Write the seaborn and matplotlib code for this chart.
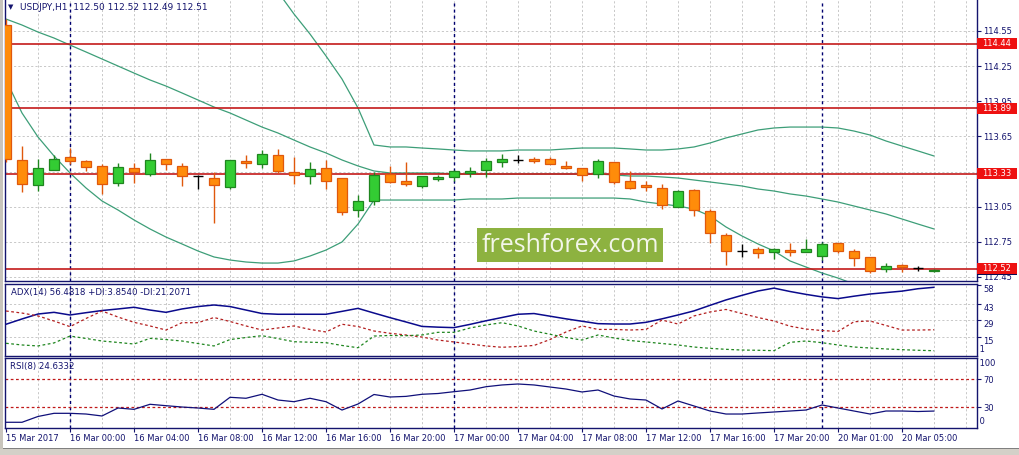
import matplotlib
matplotlib.use("Agg")
import matplotlib.pyplot as plt
from matplotlib.patches import Rectangle
import numpy as np
import pandas as pd
import seaborn as sns

# ---------------- data ----------------
bar_idx = list(range(59))
opens = [114.600, 113.449, 113.233, 113.366, 113.472, 113.438, 113.398, 113.250, 113.378, 113.332,
         113.455, 113.398, 113.312, 113.293, 113.216, 113.438, 113.415, 113.489, 113.349, 113.310,
         113.378, 113.293, 113.022, 113.101, 113.329, 113.270, 113.229, 113.287, 113.306, 113.335,
         113.363, 113.429, 113.449, 113.457, 113.455, 113.398, 113.378, 113.329, 113.429, 113.270,
         113.235, 113.207, 113.045, 113.193, 113.013, 112.808, 112.672, 112.686, 112.663, 112.680,
         112.666, 112.632, 112.738, 112.672, 112.623, 112.518, 112.552, 112.524, 112.500]
highs = [114.650, 113.568, 113.455, 113.491, 113.549, 113.449, 113.412, 113.420, 113.420, 113.506,
         113.455, 113.420, 113.321, 113.349, 113.449, 113.491, 113.534, 113.543, 113.477, 113.429,
         113.449, 113.293, 113.150, 113.349, 113.398, 113.434, 113.312, 113.321, 113.363, 113.392,
         113.463, 113.500, 113.491, 113.472, 113.472, 113.443, 113.378, 113.455, 113.434, 113.357,
         113.270, 113.244, 113.193, 113.200, 113.028, 112.823, 112.732, 112.709, 112.700, 112.738,
         112.774, 112.750, 112.740, 112.689, 112.623, 112.567, 112.561, 112.547, 112.520]
lows = [113.430, 113.178, 113.187, 113.366, 113.415, 113.357, 113.156, 113.229, 113.255, 113.315,
        113.363, 113.229, 113.199, 112.908, 113.199, 113.378, 113.378, 113.335, 113.241, 113.241,
        113.201, 112.979, 112.965, 113.065, 113.250, 113.229, 113.212, 113.270, 113.272, 113.301,
        113.301, 113.392, 113.426, 113.426, 113.412, 113.369, 113.272, 113.293, 113.241, 113.199,
        113.187, 113.028, 113.045, 112.973, 112.738, 112.552, 112.623, 112.610, 112.601, 112.629,
        112.666, 112.595, 112.652, 112.547, 112.482, 112.491, 112.495, 112.504, 112.490]
closes = [113.457, 113.241, 113.378, 113.455, 113.443, 113.386, 113.241, 113.386, 113.349, 113.449,
          113.412, 113.312, 113.312, 113.233, 113.449, 113.420, 113.497, 113.357, 113.318, 113.369,
          113.272, 113.007, 113.099, 113.321, 113.258, 113.241, 113.312, 113.301, 113.355, 113.355,
          113.440, 113.455, 113.449, 113.443, 113.412, 113.383, 113.321, 113.440, 113.258, 113.212,
          113.216, 113.065, 113.184, 113.022, 112.823, 112.672, 112.672, 112.652, 112.686, 112.661,
          112.686, 112.729, 112.674, 112.610, 112.504, 112.544, 112.535, 112.524, 112.510]

bb_upper = [115.172, 115.352, 115.437, 115.497, 115.522, 115.532, 115.523, 115.480, 115.445, 115.404,
            115.369, 115.310, 115.250, 115.181, 115.120, 115.050, 114.970, 114.883, 114.695, 114.524,
            114.337, 114.140, 113.893, 113.577, 113.560, 113.560, 113.551, 113.543, 113.534, 113.526,
            113.526, 113.526, 113.534, 113.534, 113.534, 113.543, 113.551, 113.551, 113.551, 113.543,
            113.534, 113.534, 113.543, 113.560, 113.594, 113.637, 113.671, 113.705, 113.722, 113.730,
            113.730, 113.730, 113.722, 113.696, 113.662, 113.611, 113.568, 113.526, 113.483]
bb_middle = [114.652, 114.601, 114.541, 114.490, 114.430, 114.371, 114.311, 114.251, 114.191, 114.132,
             114.080, 114.021, 113.961, 113.901, 113.850, 113.790, 113.730, 113.679, 113.619, 113.560,
             113.509, 113.449, 113.398, 113.355, 113.338, 113.338, 113.338, 113.338, 113.329, 113.329,
             113.329, 113.329, 113.329, 113.329, 113.329, 113.329, 113.329, 113.329, 113.321, 113.312,
             113.312, 113.304, 113.295, 113.278, 113.261, 113.244, 113.227, 113.201, 113.184, 113.159,
             113.141, 113.116, 113.090, 113.056, 113.022, 112.988, 112.945, 112.902, 112.860]
bb_lower = [114.132, 113.850, 113.645, 113.483, 113.338, 113.210, 113.099, 113.022, 112.937, 112.860,
            112.791, 112.732, 112.672, 112.621, 112.595, 112.578, 112.569, 112.569, 112.587, 112.629,
            112.680, 112.749, 112.902, 113.107, 113.107, 113.107, 113.107, 113.107, 113.107, 113.116,
            113.116, 113.116, 113.124, 113.124, 113.124, 113.124, 113.124, 113.124, 113.124, 113.116,
            113.090, 113.073, 113.056, 113.030, 112.971, 112.877, 112.800, 112.732, 112.672, 112.587,
            112.535, 112.484, 112.441, 112.390, 112.348, 112.313, 112.279, 112.254, 112.228]

adx_main = [25.8, 30.2, 34.3, 35.7, 33.5, 35.4, 37.2, 38.5, 39.9, 37.6,
            35.7, 38.5, 40.5, 41.8, 40.5, 37.6, 34.7, 34.1, 34.1, 34.1,
            34.1, 36.5, 39.0, 35.1, 31.3, 27.7, 24.0, 23.4, 23.0, 25.7,
            28.7, 31.4, 34.1, 34.7, 32.5, 30.3, 28.3, 26.3, 26.0, 26.0,
            27.4, 30.3, 33.5, 36.9, 41.5, 46.0, 49.8, 53.4, 55.8, 53.0,
            50.6, 48.5, 47.1, 49.1, 50.9, 52.1, 53.3, 55.3, 56.48]
adx_minus_di = [36.8, 35.1, 32.7, 28.5, 23.8, 30.6, 36.8, 31.8, 27.4, 24.4,
                21.0, 27.1, 27.1, 31.4, 28.1, 24.4, 21.0, 22.7, 24.4, 21.5,
                19.4, 25.8, 23.9, 20.2, 18.3, 16.9, 15.2, 12.7, 11.1, 9.4,
                7.8, 6.7, 7.3, 8.2, 13.1, 19.4, 24.4, 21.5, 21.5, 21.0,
                21.5, 29.3, 26.0, 32.7, 36.0, 38.1, 34.7, 31.4, 28.5, 24.2,
                21.8, 20.6, 19.8, 27.9, 28.5, 24.8, 21.0, 21.0, 21.21]
adx_plus_di = [10.0, 8.6, 7.8, 10.3, 16.0, 14.0, 11.9, 10.7, 9.4, 14.1,
               13.1, 11.9, 9.8, 7.8, 13.1, 14.8, 16.3, 13.9, 11.3, 10.9,
               10.5, 8.2, 6.3, 16.0, 16.5, 16.3, 16.9, 19.1, 19.1, 22.7,
               25.2, 27.1, 24.4, 20.2, 17.5, 14.8, 12.7, 16.9, 14.4, 12.3,
               11.1, 9.8, 8.6, 6.9, 5.8, 5.0, 4.4, 4.2, 3.9, 10.8,
               11.9, 10.5, 8.6, 6.9, 6.1, 5.3, 4.7, 4.2, 3.85]
rsi_values = [8.6, 8.6, 16.9, 21.4, 21.4, 20.4, 17.6, 29.0, 27.1, 34.3,
              32.3, 30.4, 29.0, 27.1, 44.3, 42.9, 48.6, 40.4, 38.0, 42.9,
              38.0, 26.1, 34.7, 48.3, 44.7, 45.6, 48.6, 49.7, 52.3, 54.7,
              59.4, 61.9, 63.3, 61.9, 59.0, 56.1, 51.9, 54.7, 46.1, 41.9,
              40.4, 27.6, 39.0, 31.9, 24.7, 20.4, 20.4, 21.9, 23.3, 24.7,
              26.1, 33.3, 29.0, 24.7, 20.4, 24.7, 24.7, 24.0, 24.63]

level_prices = [114.44, 113.89, 113.33, 112.52]
level_labels = ["114.44", "113.89", "113.33", "112.52"]
bid_price = 112.51
price_ticks = [112.45, 112.75, 113.05, 113.35, 113.65, 113.95, 114.25, 114.55]
adx_ticks = [58, 43, 29, 15]
rsi_levels = [70, 30]
time_tick_pos = [0, 4, 8, 12, 16, 20, 24, 28, 32, 36, 40, 44, 48, 52, 56]
time_tick_labels = ["15 Mar 2017", "16 Mar 00:00", "16 Mar 04:00", "16 Mar 08:00", "16 Mar 12:00",
                    "16 Mar 16:00", "16 Mar 20:00", "17 Mar 00:00", "17 Mar 04:00", "17 Mar 08:00",
                    "17 Mar 12:00", "17 Mar 16:00", "17 Mar 20:00", "20 Mar 01:00", "20 Mar 05:00"]
day_separators = [4, 28, 51]
header = "USDJPY,H1  112.50 112.52 112.49 112.51"
adx_header = "ADX(14) 56.4818 +DI:3.8540 -DI:21.2071"
rsi_header = "RSI(8) 24.6332"

# ---------------- style ----------------
sns.set_style("white")
plt.rcParams['font.family'] = ['DejaVu Sans']
NAVY = '#14146e'
GRID = '#c8c8c8'
W, H = 1019, 455


def fx(px):
    return px / W


def fy(py):
    return 1 - py / H


fig = plt.figure(figsize=(W / 100, H / 100), dpi=100)
fig.patch.set_facecolor('white')

pw = (977 - 5) / W
ax_main = fig.add_axes([fx(5), fy(281), pw, 281 / H])
ax_adx = fig.add_axes([fx(5), fy(356), pw, (356 - 284) / H])
ax_rsi = fig.add_axes([fx(5), fy(428), pw, (428 - 358) / H])

xlim = (-1 / 16, (977 - 6) / 16)
for ax in (ax_main, ax_adx, ax_rsi):
    ax.set_xlim(*xlim)
    ax.set_facecolor('white')
    for s in ax.spines.values():
        s.set_color(NAVY)
        s.set_linewidth(1.0)
    ax.yaxis.tick_right()
    ax.tick_params(axis='y', direction='out', length=3, width=0.8, color=NAVY,
                   labelsize=6, labelcolor=NAVY, pad=1.5)
    ax.tick_params(axis='x', bottom=False, labelbottom=False)
    for k in range(2, 61, 2):
        ax.axvline(k, color=GRID, lw=0.7, ls=(0, (2.2, 2.2)), zorder=0.5)
    for k in day_separators:
        ax.axvline(k, color='#000070', lw=1.0, ls=(0, (2.2, 2.2)), zorder=1)
ax_main.spines['top'].set_visible(False)

# ---------------- main panel ----------------
ax_main.set_ylim(112.4158, 114.8146)
ax_main.set_yticks(price_ticks)
ax_main.set_yticklabels([f"{v:.2f}" for v in price_ticks])
for v in price_ticks:
    ax_main.axhline(v, color=GRID, lw=0.7, ls=(0, (2.2, 2.2)), zorder=0.5)

band_color = '#3d9e78'
for series in (bb_upper, bb_middle, bb_lower):
    sns.lineplot(x=bar_idx, y=series, ax=ax_main, color=band_color, lw=0.9, zorder=2)

for lv in level_prices:
    ax_main.axhline(lv, color='#c41a1a', lw=1.2, zorder=2.2)

df = pd.DataFrame({'bar': bar_idx, 'open': opens, 'high': highs, 'low': lows, 'close': closes})
up = df[df.close > df.open]
dn = df[df.close < df.open]
dj = df[df.close == df.open]
bw = 0.62
G_FILL, G_EDGE = '#33cc33', '#1f861f'
O_FILL, O_EDGE = '#ff8c0a', '#e0580c'
ax_main.vlines(up.bar, up.low, up.high, color=G_EDGE, lw=1.0, zorder=3)
ax_main.bar(up.bar, up.close - up.open, bottom=up.open, width=bw, color=G_FILL,
            edgecolor=G_EDGE, linewidth=0.9, zorder=4)
ax_main.vlines(dn.bar, dn.low, dn.high, color=O_EDGE, lw=1.0, zorder=3)
ax_main.bar(dn.bar, dn.open - dn.close, bottom=dn.close, width=bw, color=O_FILL,
            edgecolor=O_EDGE, linewidth=0.9, zorder=4)
ax_main.vlines(dj.bar, dj.low, dj.high, color='black', lw=1.0, zorder=3)
ax_main.hlines(dj.open, dj.bar - bw / 2, dj.bar + bw / 2, color='black', lw=1.0, zorder=4)

ytr = ax_main.get_yaxis_transform()
hh = 5.5 / 117.14
bx_w = 40 / 972
ax_main.add_patch(Rectangle((1.0, bid_price - hh), bx_w, 2 * hh, transform=ytr,
                            facecolor='#0a0a50', edgecolor='none', clip_on=False, zorder=6))
for lv, lb in zip(level_prices, level_labels):
    ax_main.add_patch(Rectangle((1.0, lv - hh), bx_w, 2 * hh, transform=ytr,
                                facecolor='#ee1111', edgecolor='none', clip_on=False, zorder=7))
    ax_main.text(1.0 + bx_w / 2, lv, lb, transform=ytr, ha='center', va='center',
                 color='white', fontsize=6, zorder=8, clip_on=False)

# ---------------- ADX panel ----------------
ax_adx.set_ylim(-0.55, 59.22)
ax_adx.set_yticks(adx_ticks)
ax_adx.set_yticklabels([str(v) for v in adx_ticks])
for t in ax_adx.get_yticklabels():
    t.set_va('top')
for v in [15, 29, 43]:
    ax_adx.axhline(v, color=GRID, lw=0.7, ls=(0, (2.2, 2.2)), zorder=0.5)
ax_adx.text(1.0, 5.2, ' 1', transform=ax_adx.get_yaxis_transform(), ha='left', va='center',
            color=NAVY, fontsize=6, clip_on=False)
sns.lineplot(x=bar_idx, y=adx_main, ax=ax_adx, color='#0a0a8c', lw=1.1, zorder=3)
sns.lineplot(x=bar_idx, y=adx_minus_di, ax=ax_adx, color='#b42020', lw=0.9,
             linestyle=(0, (2.2, 2.0)), zorder=3)
sns.lineplot(x=bar_idx, y=adx_plus_di, ax=ax_adx, color='#1f861f', lw=0.9,
             linestyle=(0, (2.2, 2.0)), zorder=3)

# ---------------- RSI panel ----------------
ax_rsi.set_ylim(0.43, 100.43)
ax_rsi.set_yticks(rsi_levels)
ax_rsi.set_yticklabels([str(v) for v in rsi_levels])
for v in rsi_levels:
    ax_rsi.axhline(v, color='#c01818', lw=0.9, ls=(0, (2.2, 2.0)), zorder=1.5)
rtr = ax_rsi.get_yaxis_transform()
ax_rsi.text(1.0, 91.9, ' 100', transform=rtr, ha='left', va='center', color=NAVY,
            fontsize=6, clip_on=False)
ax_rsi.text(1.0, 10.4, ' 0', transform=rtr, ha='left', va='center', color=NAVY,
            fontsize=6, clip_on=False)
sns.lineplot(x=bar_idx, y=rsi_values, ax=ax_rsi, color='#10107a', lw=0.9, zorder=3)

ax_rsi.tick_params(axis='x', bottom=True, labelbottom=True, direction='out', length=3,
                   width=0.8, color=NAVY, labelsize=6, labelcolor=NAVY, pad=1.5)
ax_rsi.set_xticks(time_tick_pos)
ax_rsi.set_xticklabels(time_tick_labels)
for t in ax_rsi.get_xticklabels():
    t.set_ha('left')

for ax in (ax_main, ax_adx, ax_rsi):
    ax.set_xlabel('')
    ax.set_ylabel('')
    lg = ax.get_legend()
    if lg is not None:
        lg.remove()

# ---------------- headers & decoration ----------------
fig.text(fx(8), fy(7.5), '\u25BC', fontsize=5, color=NAVY, va='center', ha='left')
fig.text(fx(20), fy(7), header, fontsize=6.5, color=NAVY, va='center', ha='left')
fig.text(fx(11), fy(293), adx_header, fontsize=6.2, color=NAVY, va='center', ha='left')
fig.text(fx(10), fy(366), rsi_header, fontsize=6.2, color=NAVY, va='center', ha='left')

fig.patches.append(Rectangle((fx(477), fy(262)), 186 / W, 34 / H, transform=fig.transFigure,
                             facecolor='#8db240', edgecolor='none', zorder=5))
fig.text(fx(570), fy(246), 'freshforex.com', fontsize=18, family='Open Sans', color='#f3f6ea',
         ha='center', va='center', zorder=6)

fig.patches.append(Rectangle((0, 0), 1, 6 / H, transform=fig.transFigure,
                             facecolor='#d4d0c8', edgecolor='none', zorder=5))
fig.patches.append(Rectangle((0, 6 / H), 1, 1 / H, transform=fig.transFigure,
                             facecolor='#808080', edgecolor='none', zorder=5))
fig.patches.append(Rectangle((0, 6 / H), 3 / W, 1 - 6 / H, transform=fig.transFigure,
                             facecolor='#c8c4bc', edgecolor='none', zorder=5))

fig.savefig('out.png', dpi=100)
